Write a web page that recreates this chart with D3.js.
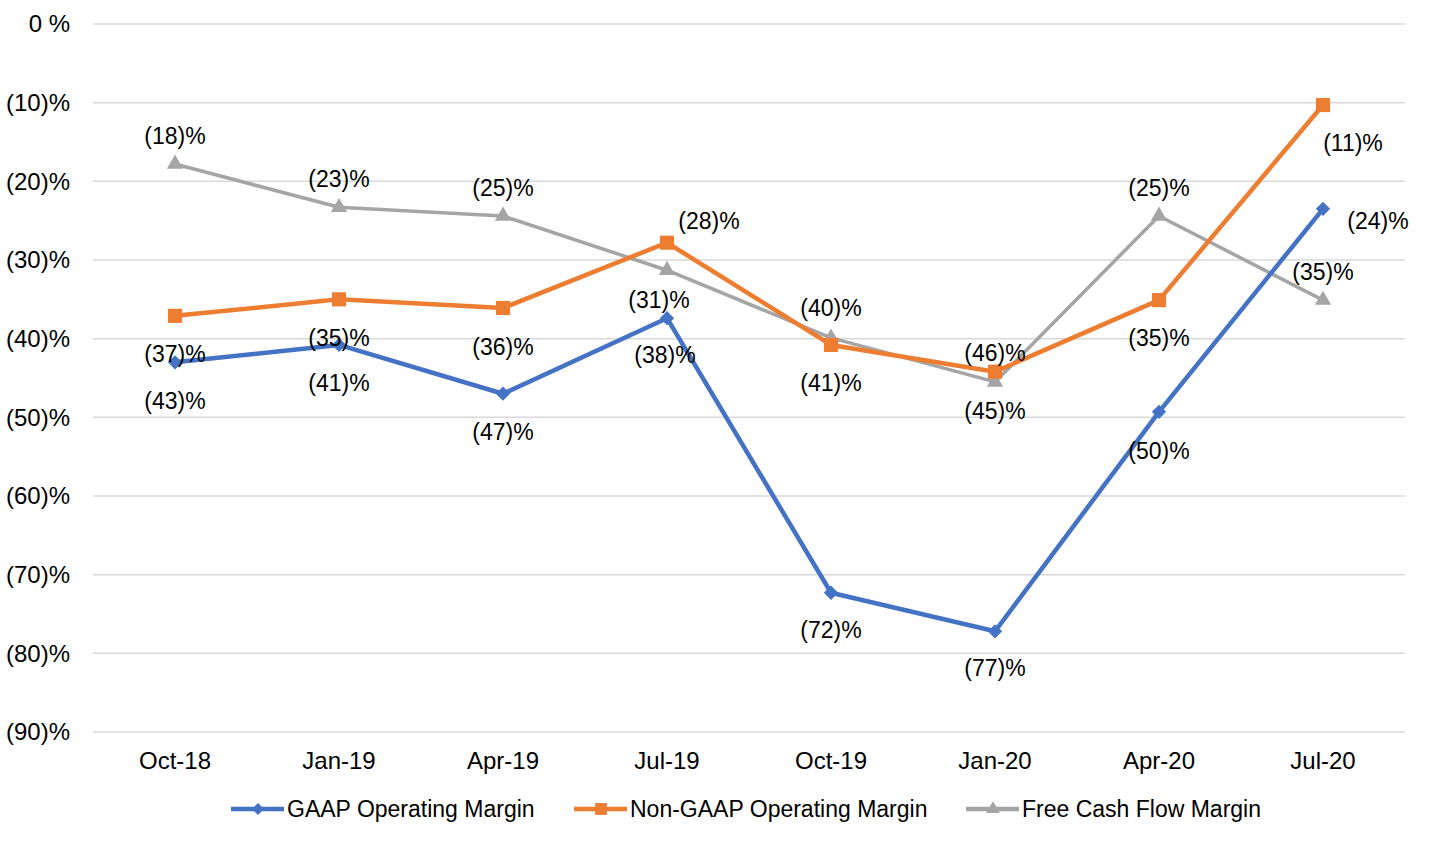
<!DOCTYPE html>
<html><head><meta charset="utf-8">
<script src="https://cdn.jsdelivr.net/npm/d3@7"></script>
<style>body{margin:0;background:#fff}svg{display:block}text{font-family:"Liberation Sans",Arial,sans-serif;fill:#000}</style>
</head><body>
<svg id="c" width="1456" height="843"></svg>
<script>
const categories = ["Oct-18","Jan-19","Apr-19","Jul-19","Oct-19","Jan-20","Apr-20","Jul-20"];
const yTicks = [0,-10,-20,-30,-40,-50,-60,-70,-80,-90];
const yTickLabels = ["0 %","(10)%","(20)%","(30)%","(40)%","(50)%","(60)%","(70)%","(80)%","(90)%"];
const seriesNames = ["GAAP Operating Margin","Non-GAAP Operating Margin","Free Cash Flow Margin"];
const gaapValues = [-43.0,-40.8,-47.0,-37.4,-72.3,-77.2,-49.3,-23.5];
const nonGaapValues = [-37.1,-35.0,-36.1,-27.8,-40.8,-44.2,-35.1,-10.3];
const fcfValues = [-17.8,-23.3,-24.4,-31.3,-39.9,-45.5,-24.4,-35.1];
const gaapLabels = ["(43)%","(41)%","(47)%","(38)%","(72)%","(77)%","(50)%","(24)%"];
const nonGaapLabels = ["(37)%","(35)%","(36)%","(28)%","(41)%","(46)%","(35)%","(11)%"];
const fcfLabels = ["(18)%","(23)%","(25)%","(31)%","(40)%","(45)%","(25)%","(35)%"];

// layout / style (not data)
const colors = ["#4472C4","#ED7D31","#A5A5A5"];
const symbols = [d3.symbolDiamond2, d3.symbolSquare, d3.symbolTriangle];
const symbolSizes = [130, 200, 115];
const labelOffsets = [
  [[0,39],[0,38],[0,38],[-2,37],[0,37],[0,37],[0,39],[55,12]],
  [[0,38],[0,39],[0,39],[42,-22],[0,38],[0,-19],[0,38],[30,38]],
  [[0,-28],[0,-28],[0,-28],[-8,30],[0,-30],[0,29],[0,-28],[0,-28]]
];

const svg = d3.select("#c");
const x = d3.scaleBand().domain(categories).range([93,1405]);
const y = d3.scaleLinear().domain([-90,0]).range([732,24]);
const cx = d => x(d) + x.bandwidth()/2;

// gridlines
svg.append("g").selectAll("line").data(yTicks).join("line")
  .attr("x1",93).attr("x2",1405)
  .attr("y1",d=>y(d)).attr("y2",d=>y(d))
  .attr("stroke","#d9d9d9").attr("stroke-width",1.5);

// y labels
svg.append("g").selectAll("text").data(yTicks).join("text")
  .attr("x",70).attr("y",d=>y(d)).attr("dy","0.35em")
  .attr("text-anchor","end").style("font-size","24px")
  .text((d,i)=>yTickLabels[i]);

// x labels
svg.append("g").selectAll("text").data(categories).join("text")
  .attr("x",d=>cx(d)).attr("y",761).attr("dy","0.35em")
  .attr("text-anchor","middle").style("font-size","24px")
  .text(d=>d);

const allValues = [gaapValues, nonGaapValues, fcfValues];
const allLabels = [gaapLabels, nonGaapLabels, fcfLabels];
const drawOrder = [2,0,1];

const line = d3.line().x((d,i)=>cx(categories[i])).y(d=>y(d));
drawOrder.forEach(s=>{
  const g = svg.append("g");
  g.append("path").datum(allValues[s]).attr("d",line)
    .attr("fill","none").attr("stroke",colors[s]).attr("stroke-width",s===2?3.5:4.5)
    .attr("stroke-linejoin","round");
  g.selectAll("path.m").data(allValues[s]).join("path").attr("class","m")
    .attr("transform",(d,i)=>`translate(${cx(categories[i])},${y(d)})`)
    .attr("d",d3.symbol().type(symbols[s]).size(symbolSizes[s]))
    .attr("fill",colors[s]);
});
[0,1,2].forEach(s=>{
  svg.append("g").selectAll("text").data(allValues[s]).join("text")
    .attr("x",(d,i)=>cx(categories[i])+labelOffsets[s][i][0])
    .attr("y",(d,i)=>y(d)+labelOffsets[s][i][1])
    .attr("dy","0.35em").attr("text-anchor","middle").style("font-size","23px")
    .text((d,i)=>allLabels[s][i]);
});

// legend
const legendX = [231,574,966];
const lg = svg.append("g");
seriesNames.forEach((n,s)=>{
  lg.append("line").attr("x1",legendX[s]).attr("x2",legendX[s]+53)
    .attr("y1",809).attr("y2",809).attr("stroke",colors[s]).attr("stroke-width",4.5);
  lg.append("path").attr("transform",`translate(${legendX[s]+27},809)`)
    .attr("d",d3.symbol().type(symbols[s]).size(symbolSizes[s]*0.7)).attr("fill",colors[s]);
  lg.append("text").attr("x",legendX[s]+56).attr("y",809).attr("dy","0.35em")
    .style("font-size","23px").text(n);
});
</script>
</body></html>
